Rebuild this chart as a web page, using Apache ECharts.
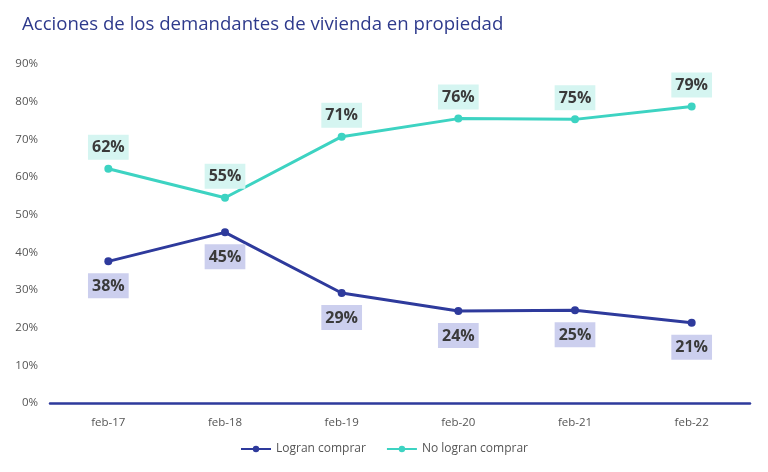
<!DOCTYPE html>
<html>
<head>
<meta charset="utf-8">
<script src="https://cdn.jsdelivr.net/npm/echarts@6/dist/echarts.min.js"></script>
<style>
html, body { margin: 0; padding: 0; background: #fff; }
#chart { width: 768px; height: 472px; }
</style>
</head>
<body>
<div id="chart"></div>
<script>
var categories = ['feb-17', 'feb-18', 'feb-19', 'feb-20', 'feb-21', 'feb-22'];
var logranComprar = [37.6, 45.3, 29.2, 24.4, 24.6, 21.3];
var noLogranComprar = [62.2, 54.5, 70.7, 75.5, 75.3, 78.7];

var blue = '#2E3A9C';
var teal = '#3DD3C2';

var myChart = echarts.init(document.getElementById('chart'));
var fmt = function (p) { return Math.round(p.value) + '%'; };

var option = {
    backgroundColor: '#fff',
    title: {
        text: 'Acciones de los demandantes de vivienda en propiedad',
        left: 17,
        top: 10,
        textStyle: {
            fontFamily: 'Open Sans',
            fontSize: 18.6,
            fontWeight: 'normal',
            color: '#2E3A8C'
        }
    },
    legend: {
        bottom: 12,
        left: 'center',
        itemWidth: 30,
        itemHeight: 8,
        itemGap: 20,
        textStyle: { fontFamily: 'Open Sans', fontSize: 12, color: '#555' },
        data: ['Logran comprar', 'No logran comprar']
    },
    grid: {
        left: 50,
        right: 18,
        top: 64,
        bottom: 69
    },
    xAxis: {
        type: 'category',
        data: categories,
        boundaryGap: true,
        axisLine: { lineStyle: { color: blue, width: 2.5 } },
        axisTick: { show: false },
        axisLabel: { color: '#555', fontFamily: 'Open Sans', fontSize: 11.5, margin: 14 }
    },
    yAxis: {
        type: 'value',
        min: 0,
        max: 90,
        interval: 10,
        splitLine: { show: false },
        axisLine: { show: false },
        axisTick: { show: false },
        axisLabel: {
            color: '#555',
            fontFamily: 'Open Sans',
            fontSize: 11.5,
            margin: 12,
            formatter: '{value}%'
        }
    },
    series: [
        {
            name: 'Logran comprar',
            type: 'line',
            data: logranComprar,
            symbol: 'circle',
            symbolSize: 8,
            lineStyle: { color: blue, width: 3 },
            itemStyle: { color: blue },
            label: {
                show: true,
                position: 'bottom',
                distance: 8,
                formatter: fmt,
                fontFamily: 'Open Sans',
                fontSize: 16,
                fontWeight: 'bold',
                color: '#3A3A3A',
                backgroundColor: '#CCCFEE',
                padding: [5, 4, 4, 4]
            }
        },
        {
            name: 'No logran comprar',
            type: 'line',
            data: noLogranComprar,
            symbol: 'circle',
            symbolSize: 8,
            lineStyle: { color: teal, width: 3 },
            itemStyle: { color: teal },
            label: {
                show: true,
                position: 'top',
                distance: 5,
                formatter: fmt,
                fontFamily: 'Open Sans',
                fontSize: 16,
                fontWeight: 'bold',
                color: '#3A3A3A',
                backgroundColor: '#D5F5F1',
                padding: [5, 4, 4, 4]
            }
        }
    ]
};
myChart.setOption(option);
window.onresize = myChart.resize;
</script>
</body>
</html>
